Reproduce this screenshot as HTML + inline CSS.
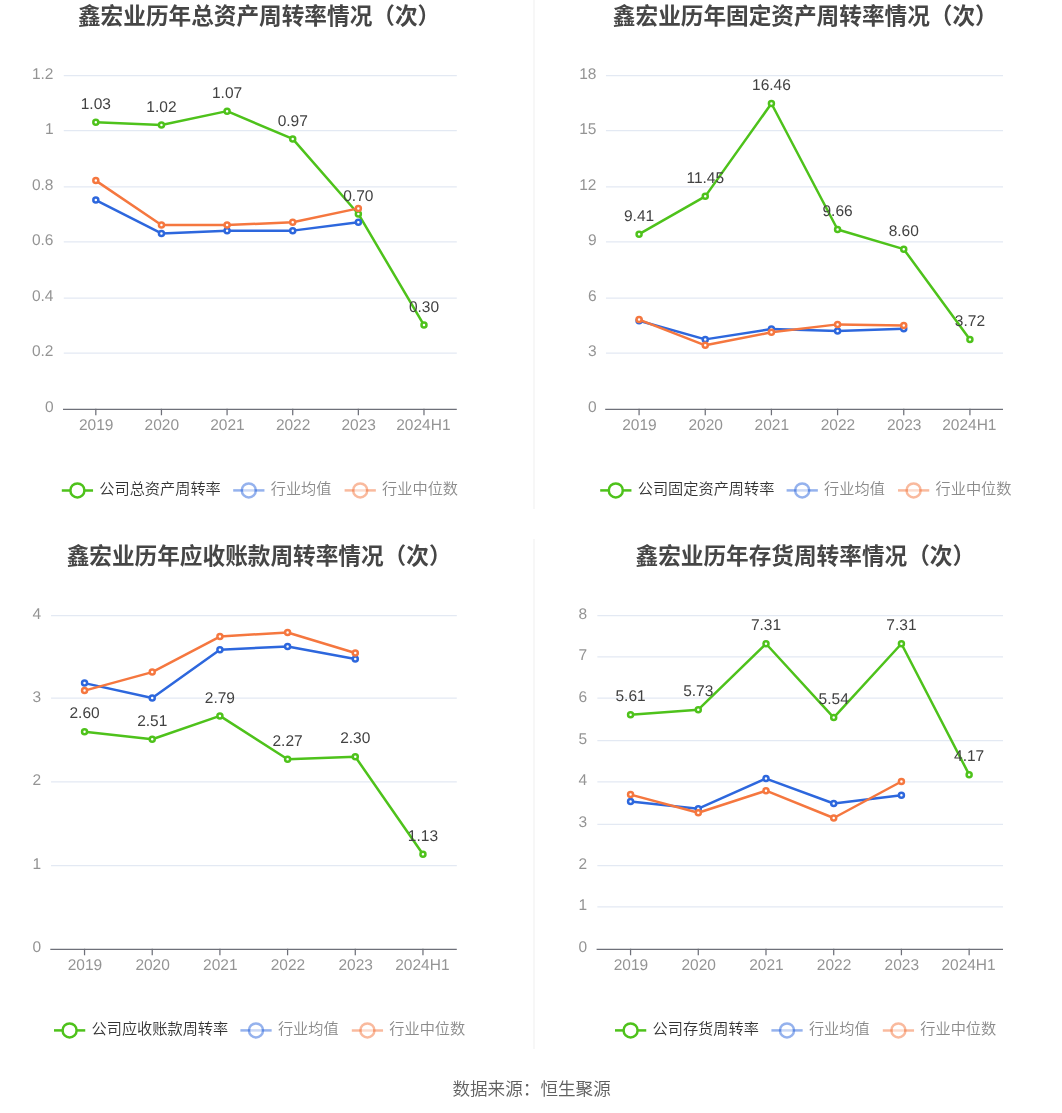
<!DOCTYPE html>
<html lang="zh-CN">
<head>
<meta charset="utf-8">
<title>鑫宏业历年周转率情况</title>
<style>
html,body{margin:0;padding:0;background:#fff;}
body{width:1062px;height:1113px;overflow:hidden;font-family:"Liberation Sans", "Noto Sans CJK SC", sans-serif;}
svg{display:block;will-change:transform;}
text{font-family:"Liberation Sans", "Noto Sans CJK SC", sans-serif;}
.ttl{font-size:22.65px;font-weight:bold;fill:#464646;}
.ax{font-size:15.5px;text-rendering:geometricPrecision;fill:#949494;}
.dl{font-size:15.5px;text-rendering:geometricPrecision;fill:#424242;}
.lg{font-size:15.2px;font-weight:350;}
.src{font-size:17.6px;fill:#606060;font-weight:350;}
</style>
</head>
<body>
<svg width="1062" height="1113" viewBox="0 0 1062 1113">
<rect x="0" y="0" width="1062" height="1113" fill="#fff"/>
<g>
<text class="ttl" x="259.1" y="24.2" text-anchor="middle">鑫宏业历年总资产周转率情况（次）</text>
<text class="ax" x="53.5" y="412" text-anchor="end">0</text>
<line x1="63.75" x2="456.8" y1="353.12" y2="353.12" stroke="#e3e9f3" stroke-width="1.25"/>
<text class="ax" x="53.5" y="356.42" text-anchor="end">0.2</text>
<line x1="63.75" x2="456.8" y1="298.12" y2="298.12" stroke="#e3e9f3" stroke-width="1.25"/>
<text class="ax" x="53.5" y="300.83" text-anchor="end">0.4</text>
<line x1="63.75" x2="456.8" y1="241.88" y2="241.88" stroke="#e3e9f3" stroke-width="1.25"/>
<text class="ax" x="53.5" y="245.25" text-anchor="end">0.6</text>
<line x1="63.75" x2="456.8" y1="186.88" y2="186.88" stroke="#e3e9f3" stroke-width="1.25"/>
<text class="ax" x="53.5" y="189.67" text-anchor="end">0.8</text>
<line x1="63.75" x2="456.8" y1="130.62" y2="130.62" stroke="#e3e9f3" stroke-width="1.25"/>
<text class="ax" x="53.5" y="134.08" text-anchor="end">1</text>
<line x1="63.75" x2="456.8" y1="75.62" y2="75.62" stroke="#e3e9f3" stroke-width="1.25"/>
<text class="ax" x="53.5" y="78.5" text-anchor="end">1.2</text>
<line x1="63" x2="456.8" y1="409.38" y2="409.38" stroke="#6e7079" stroke-width="1.25"/>
<line x1="95.82" x2="95.82" y1="408.77" y2="415.27" stroke="#6e7079" stroke-width="1.25"/>
<text class="ax" x="96.22" y="429.8" text-anchor="middle">2019</text>
<line x1="161.45" x2="161.45" y1="408.77" y2="415.27" stroke="#6e7079" stroke-width="1.25"/>
<text class="ax" x="161.85" y="429.8" text-anchor="middle">2020</text>
<line x1="227.08" x2="227.08" y1="408.77" y2="415.27" stroke="#6e7079" stroke-width="1.25"/>
<text class="ax" x="227.48" y="429.8" text-anchor="middle">2021</text>
<line x1="292.72" x2="292.72" y1="408.77" y2="415.27" stroke="#6e7079" stroke-width="1.25"/>
<text class="ax" x="293.12" y="429.8" text-anchor="middle">2022</text>
<line x1="358.35" x2="358.35" y1="408.77" y2="415.27" stroke="#6e7079" stroke-width="1.25"/>
<text class="ax" x="358.75" y="429.8" text-anchor="middle">2023</text>
<line x1="423.98" x2="423.98" y1="408.77" y2="415.27" stroke="#6e7079" stroke-width="1.25"/>
<text class="ax" x="423.38" y="429.8" text-anchor="middle">2024H1</text>
<polyline fill="none" stroke="#4ec21b" stroke-width="2.5" stroke-linejoin="bevel" points="95.82,122.25 161.45,125.02 227.08,111.13 292.72,138.92 358.35,213.96 423.98,325.12"/>
<circle cx="95.82" cy="122.25" r="2.5" fill="#fff" stroke="#4ec21b" stroke-width="2.5"/>
<circle cx="161.45" cy="125.02" r="2.5" fill="#fff" stroke="#4ec21b" stroke-width="2.5"/>
<circle cx="227.08" cy="111.13" r="2.5" fill="#fff" stroke="#4ec21b" stroke-width="2.5"/>
<circle cx="292.72" cy="138.92" r="2.5" fill="#fff" stroke="#4ec21b" stroke-width="2.5"/>
<circle cx="358.35" cy="213.96" r="2.5" fill="#fff" stroke="#4ec21b" stroke-width="2.5"/>
<circle cx="423.98" cy="325.12" r="2.5" fill="#fff" stroke="#4ec21b" stroke-width="2.5"/>
<polyline fill="none" stroke="#2d67dd" stroke-width="2.5" stroke-linejoin="bevel" points="95.82,200.06 161.45,233.41 227.08,230.63 292.72,230.63 358.35,222.3"/>
<circle cx="95.82" cy="200.06" r="2.5" fill="#fff" stroke="#2d67dd" stroke-width="2.5"/>
<circle cx="161.45" cy="233.41" r="2.5" fill="#fff" stroke="#2d67dd" stroke-width="2.5"/>
<circle cx="227.08" cy="230.63" r="2.5" fill="#fff" stroke="#2d67dd" stroke-width="2.5"/>
<circle cx="292.72" cy="230.63" r="2.5" fill="#fff" stroke="#2d67dd" stroke-width="2.5"/>
<circle cx="358.35" cy="222.3" r="2.5" fill="#fff" stroke="#2d67dd" stroke-width="2.5"/>
<polyline fill="none" stroke="#f5773f" stroke-width="2.5" stroke-linejoin="bevel" points="95.82,180.61 161.45,225.07 227.08,225.07 292.72,222.3 358.35,208.4"/>
<circle cx="95.82" cy="180.61" r="2.5" fill="#fff" stroke="#f5773f" stroke-width="2.5"/>
<circle cx="161.45" cy="225.07" r="2.5" fill="#fff" stroke="#f5773f" stroke-width="2.5"/>
<circle cx="227.08" cy="225.07" r="2.5" fill="#fff" stroke="#f5773f" stroke-width="2.5"/>
<circle cx="292.72" cy="222.3" r="2.5" fill="#fff" stroke="#f5773f" stroke-width="2.5"/>
<circle cx="358.35" cy="208.4" r="2.5" fill="#fff" stroke="#f5773f" stroke-width="2.5"/>
<text class="dl" x="95.82" y="108.95" text-anchor="middle">1.03</text>
<text class="dl" x="161.45" y="111.72" text-anchor="middle">1.02</text>
<text class="dl" x="227.08" y="97.83" text-anchor="middle">1.07</text>
<text class="dl" x="292.72" y="125.62" text-anchor="middle">0.97</text>
<text class="dl" x="358.35" y="200.66" text-anchor="middle">0.70</text>
<text class="dl" x="423.98" y="311.82" text-anchor="middle">0.30</text>
<line x1="61.8" x2="93.05" y1="490.4" y2="490.4" stroke="#4ec21b" stroke-width="2.5" opacity="1"/>
<circle cx="77.4" cy="490.4" r="7" fill="#fff" stroke="#4ec21b" stroke-width="2.5" opacity="1"/>
<text class="lg" x="99.3" y="494" fill="#333">公司总资产周转率</text>
<line x1="233.2" x2="264.45" y1="490.4" y2="490.4" stroke="#2d67dd" stroke-width="2.5" opacity="0.5"/>
<circle cx="248.8" cy="490.4" r="7" fill="#fff" stroke="#2d67dd" stroke-width="2.5" opacity="0.5"/>
<text class="lg" x="270.7" y="494" fill="#8a8a8a">行业均值</text>
<line x1="344.6" x2="375.85" y1="490.4" y2="490.4" stroke="#f5773f" stroke-width="2.5" opacity="0.5"/>
<circle cx="360.2" cy="490.4" r="7" fill="#fff" stroke="#f5773f" stroke-width="2.5" opacity="0.5"/>
<text class="lg" x="382.1" y="494" fill="#8a8a8a">行业中位数</text>
</g>
<g>
<text class="ttl" x="805.3" y="24.2" text-anchor="middle">鑫宏业历年固定资产周转率情况（次）</text>
<text class="ax" x="596.5" y="412" text-anchor="end">0</text>
<line x1="605.95" x2="1003" y1="353.12" y2="353.12" stroke="#e3e9f3" stroke-width="1.25"/>
<text class="ax" x="596.5" y="356.42" text-anchor="end">3</text>
<line x1="605.95" x2="1003" y1="298.12" y2="298.12" stroke="#e3e9f3" stroke-width="1.25"/>
<text class="ax" x="596.5" y="300.83" text-anchor="end">6</text>
<line x1="605.95" x2="1003" y1="241.88" y2="241.88" stroke="#e3e9f3" stroke-width="1.25"/>
<text class="ax" x="596.5" y="245.25" text-anchor="end">9</text>
<line x1="605.95" x2="1003" y1="186.88" y2="186.88" stroke="#e3e9f3" stroke-width="1.25"/>
<text class="ax" x="596.5" y="189.67" text-anchor="end">12</text>
<line x1="605.95" x2="1003" y1="130.62" y2="130.62" stroke="#e3e9f3" stroke-width="1.25"/>
<text class="ax" x="596.5" y="134.08" text-anchor="end">15</text>
<line x1="605.95" x2="1003" y1="75.62" y2="75.62" stroke="#e3e9f3" stroke-width="1.25"/>
<text class="ax" x="596.5" y="78.5" text-anchor="end">18</text>
<line x1="605.2" x2="1003" y1="409.38" y2="409.38" stroke="#6e7079" stroke-width="1.25"/>
<line x1="639.08" x2="639.08" y1="408.77" y2="415.27" stroke="#6e7079" stroke-width="1.25"/>
<text class="ax" x="639.48" y="429.8" text-anchor="middle">2019</text>
<line x1="705.25" x2="705.25" y1="408.77" y2="415.27" stroke="#6e7079" stroke-width="1.25"/>
<text class="ax" x="705.65" y="429.8" text-anchor="middle">2020</text>
<line x1="771.42" x2="771.42" y1="408.77" y2="415.27" stroke="#6e7079" stroke-width="1.25"/>
<text class="ax" x="771.82" y="429.8" text-anchor="middle">2021</text>
<line x1="837.58" x2="837.58" y1="408.77" y2="415.27" stroke="#6e7079" stroke-width="1.25"/>
<text class="ax" x="837.98" y="429.8" text-anchor="middle">2022</text>
<line x1="903.75" x2="903.75" y1="408.77" y2="415.27" stroke="#6e7079" stroke-width="1.25"/>
<text class="ax" x="904.15" y="429.8" text-anchor="middle">2023</text>
<line x1="969.92" x2="969.92" y1="408.77" y2="415.27" stroke="#6e7079" stroke-width="1.25"/>
<text class="ax" x="969.32" y="429.8" text-anchor="middle">2024H1</text>
<polyline fill="none" stroke="#4ec21b" stroke-width="2.5" stroke-linejoin="bevel" points="639.08,234.15 705.25,196.36 771.42,103.53 837.58,229.52 903.75,249.16 969.92,339.58"/>
<circle cx="639.08" cy="234.15" r="2.5" fill="#fff" stroke="#4ec21b" stroke-width="2.5"/>
<circle cx="705.25" cy="196.36" r="2.5" fill="#fff" stroke="#4ec21b" stroke-width="2.5"/>
<circle cx="771.42" cy="103.53" r="2.5" fill="#fff" stroke="#4ec21b" stroke-width="2.5"/>
<circle cx="837.58" cy="229.52" r="2.5" fill="#fff" stroke="#4ec21b" stroke-width="2.5"/>
<circle cx="903.75" cy="249.16" r="2.5" fill="#fff" stroke="#4ec21b" stroke-width="2.5"/>
<circle cx="969.92" cy="339.58" r="2.5" fill="#fff" stroke="#4ec21b" stroke-width="2.5"/>
<polyline fill="none" stroke="#2d67dd" stroke-width="2.5" stroke-linejoin="bevel" points="639.08,320.68 705.25,339.39 771.42,329.02 837.58,331.05 903.75,328.65"/>
<circle cx="639.08" cy="320.68" r="2.5" fill="#fff" stroke="#2d67dd" stroke-width="2.5"/>
<circle cx="705.25" cy="339.39" r="2.5" fill="#fff" stroke="#2d67dd" stroke-width="2.5"/>
<circle cx="771.42" cy="329.02" r="2.5" fill="#fff" stroke="#2d67dd" stroke-width="2.5"/>
<circle cx="837.58" cy="331.05" r="2.5" fill="#fff" stroke="#2d67dd" stroke-width="2.5"/>
<circle cx="903.75" cy="328.65" r="2.5" fill="#fff" stroke="#2d67dd" stroke-width="2.5"/>
<polyline fill="none" stroke="#f5773f" stroke-width="2.5" stroke-linejoin="bevel" points="639.08,319.57 705.25,345.32 771.42,332.35 837.58,324.38 903.75,325.5"/>
<circle cx="639.08" cy="319.57" r="2.5" fill="#fff" stroke="#f5773f" stroke-width="2.5"/>
<circle cx="705.25" cy="345.32" r="2.5" fill="#fff" stroke="#f5773f" stroke-width="2.5"/>
<circle cx="771.42" cy="332.35" r="2.5" fill="#fff" stroke="#f5773f" stroke-width="2.5"/>
<circle cx="837.58" cy="324.38" r="2.5" fill="#fff" stroke="#f5773f" stroke-width="2.5"/>
<circle cx="903.75" cy="325.5" r="2.5" fill="#fff" stroke="#f5773f" stroke-width="2.5"/>
<text class="dl" x="639.08" y="220.85" text-anchor="middle">9.41</text>
<text class="dl" x="705.25" y="183.06" text-anchor="middle">11.45</text>
<text class="dl" x="771.42" y="90.23" text-anchor="middle">16.46</text>
<text class="dl" x="837.58" y="216.22" text-anchor="middle">9.66</text>
<text class="dl" x="903.75" y="235.86" text-anchor="middle">8.60</text>
<text class="dl" x="969.92" y="326.28" text-anchor="middle">3.72</text>
<line x1="600.2" x2="631.45" y1="490.4" y2="490.4" stroke="#4ec21b" stroke-width="2.5" opacity="1"/>
<circle cx="615.8" cy="490.4" r="7" fill="#fff" stroke="#4ec21b" stroke-width="2.5" opacity="1"/>
<text class="lg" x="637.7" y="494" fill="#333">公司固定资产周转率</text>
<line x1="786.6" x2="817.85" y1="490.4" y2="490.4" stroke="#2d67dd" stroke-width="2.5" opacity="0.5"/>
<circle cx="802.2" cy="490.4" r="7" fill="#fff" stroke="#2d67dd" stroke-width="2.5" opacity="0.5"/>
<text class="lg" x="824.1" y="494" fill="#8a8a8a">行业均值</text>
<line x1="898" x2="929.25" y1="490.4" y2="490.4" stroke="#f5773f" stroke-width="2.5" opacity="0.5"/>
<circle cx="913.6" cy="490.4" r="7" fill="#fff" stroke="#f5773f" stroke-width="2.5" opacity="0.5"/>
<text class="lg" x="935.5" y="494" fill="#8a8a8a">行业中位数</text>
</g>
<g>
<text class="ttl" x="259.1" y="564.2" text-anchor="middle">鑫宏业历年应收账款周转率情况（次）</text>
<text class="ax" x="41.2" y="952" text-anchor="end">0</text>
<line x1="51.05" x2="456.8" y1="865.62" y2="865.62" stroke="#e3e9f3" stroke-width="1.25"/>
<text class="ax" x="41.2" y="868.62" text-anchor="end">1</text>
<line x1="51.05" x2="456.8" y1="781.88" y2="781.88" stroke="#e3e9f3" stroke-width="1.25"/>
<text class="ax" x="41.2" y="785.25" text-anchor="end">2</text>
<line x1="51.05" x2="456.8" y1="698.12" y2="698.12" stroke="#e3e9f3" stroke-width="1.25"/>
<text class="ax" x="41.2" y="701.88" text-anchor="end">3</text>
<line x1="51.05" x2="456.8" y1="615.62" y2="615.62" stroke="#e3e9f3" stroke-width="1.25"/>
<text class="ax" x="41.2" y="618.5" text-anchor="end">4</text>
<line x1="50.3" x2="456.8" y1="949.38" y2="949.38" stroke="#6e7079" stroke-width="1.25"/>
<line x1="84.54" x2="84.54" y1="948.77" y2="955.27" stroke="#6e7079" stroke-width="1.25"/>
<text class="ax" x="84.94" y="969.8" text-anchor="middle">2019</text>
<line x1="152.23" x2="152.23" y1="948.77" y2="955.27" stroke="#6e7079" stroke-width="1.25"/>
<text class="ax" x="152.63" y="969.8" text-anchor="middle">2020</text>
<line x1="219.91" x2="219.91" y1="948.77" y2="955.27" stroke="#6e7079" stroke-width="1.25"/>
<text class="ax" x="220.31" y="969.8" text-anchor="middle">2021</text>
<line x1="287.59" x2="287.59" y1="948.77" y2="955.27" stroke="#6e7079" stroke-width="1.25"/>
<text class="ax" x="287.99" y="969.8" text-anchor="middle">2022</text>
<line x1="355.28" x2="355.28" y1="948.77" y2="955.27" stroke="#6e7079" stroke-width="1.25"/>
<text class="ax" x="355.68" y="969.8" text-anchor="middle">2023</text>
<line x1="422.96" x2="422.96" y1="948.77" y2="955.27" stroke="#6e7079" stroke-width="1.25"/>
<text class="ax" x="422.36" y="969.8" text-anchor="middle">2024H1</text>
<polyline fill="none" stroke="#4ec21b" stroke-width="2.5" stroke-linejoin="bevel" points="84.54,731.73 152.23,739.23 219.91,715.88 287.59,759.24 355.28,756.74 422.96,854.29"/>
<circle cx="84.54" cy="731.73" r="2.5" fill="#fff" stroke="#4ec21b" stroke-width="2.5"/>
<circle cx="152.23" cy="739.23" r="2.5" fill="#fff" stroke="#4ec21b" stroke-width="2.5"/>
<circle cx="219.91" cy="715.88" r="2.5" fill="#fff" stroke="#4ec21b" stroke-width="2.5"/>
<circle cx="287.59" cy="759.24" r="2.5" fill="#fff" stroke="#4ec21b" stroke-width="2.5"/>
<circle cx="355.28" cy="756.74" r="2.5" fill="#fff" stroke="#4ec21b" stroke-width="2.5"/>
<circle cx="422.96" cy="854.29" r="2.5" fill="#fff" stroke="#4ec21b" stroke-width="2.5"/>
<polyline fill="none" stroke="#2d67dd" stroke-width="2.5" stroke-linejoin="bevel" points="84.54,683.12 152.23,698.04 219.91,649.68 287.59,646.52 355.28,659.02"/>
<circle cx="84.54" cy="683.12" r="2.5" fill="#fff" stroke="#2d67dd" stroke-width="2.5"/>
<circle cx="152.23" cy="698.04" r="2.5" fill="#fff" stroke="#2d67dd" stroke-width="2.5"/>
<circle cx="219.91" cy="649.68" r="2.5" fill="#fff" stroke="#2d67dd" stroke-width="2.5"/>
<circle cx="287.59" cy="646.52" r="2.5" fill="#fff" stroke="#2d67dd" stroke-width="2.5"/>
<circle cx="355.28" cy="659.02" r="2.5" fill="#fff" stroke="#2d67dd" stroke-width="2.5"/>
<polyline fill="none" stroke="#f5773f" stroke-width="2.5" stroke-linejoin="bevel" points="84.54,690.62 152.23,672.11 219.91,636.59 287.59,632.43 355.28,652.94"/>
<circle cx="84.54" cy="690.62" r="2.5" fill="#fff" stroke="#f5773f" stroke-width="2.5"/>
<circle cx="152.23" cy="672.11" r="2.5" fill="#fff" stroke="#f5773f" stroke-width="2.5"/>
<circle cx="219.91" cy="636.59" r="2.5" fill="#fff" stroke="#f5773f" stroke-width="2.5"/>
<circle cx="287.59" cy="632.43" r="2.5" fill="#fff" stroke="#f5773f" stroke-width="2.5"/>
<circle cx="355.28" cy="652.94" r="2.5" fill="#fff" stroke="#f5773f" stroke-width="2.5"/>
<text class="dl" x="84.54" y="718.43" text-anchor="middle">2.60</text>
<text class="dl" x="152.23" y="725.93" text-anchor="middle">2.51</text>
<text class="dl" x="219.91" y="702.58" text-anchor="middle">2.79</text>
<text class="dl" x="287.59" y="745.94" text-anchor="middle">2.27</text>
<text class="dl" x="355.28" y="743.44" text-anchor="middle">2.30</text>
<text class="dl" x="422.96" y="840.99" text-anchor="middle">1.13</text>
<line x1="54" x2="85.25" y1="1030.4" y2="1030.4" stroke="#4ec21b" stroke-width="2.5" opacity="1"/>
<circle cx="69.6" cy="1030.4" r="7" fill="#fff" stroke="#4ec21b" stroke-width="2.5" opacity="1"/>
<text class="lg" x="91.5" y="1034" fill="#333">公司应收账款周转率</text>
<line x1="240.4" x2="271.65" y1="1030.4" y2="1030.4" stroke="#2d67dd" stroke-width="2.5" opacity="0.5"/>
<circle cx="256" cy="1030.4" r="7" fill="#fff" stroke="#2d67dd" stroke-width="2.5" opacity="0.5"/>
<text class="lg" x="277.9" y="1034" fill="#8a8a8a">行业均值</text>
<line x1="351.8" x2="383.05" y1="1030.4" y2="1030.4" stroke="#f5773f" stroke-width="2.5" opacity="0.5"/>
<circle cx="367.4" cy="1030.4" r="7" fill="#fff" stroke="#f5773f" stroke-width="2.5" opacity="0.5"/>
<text class="lg" x="389.3" y="1034" fill="#8a8a8a">行业中位数</text>
</g>
<g>
<text class="ttl" x="805.3" y="564.2" text-anchor="middle">鑫宏业历年存货周转率情况（次）</text>
<text class="ax" x="587.2" y="952" text-anchor="end">0</text>
<line x1="597.35" x2="1003" y1="906.88" y2="906.88" stroke="#e3e9f3" stroke-width="1.25"/>
<text class="ax" x="587.2" y="910.31" text-anchor="end">1</text>
<line x1="597.35" x2="1003" y1="865.62" y2="865.62" stroke="#e3e9f3" stroke-width="1.25"/>
<text class="ax" x="587.2" y="868.62" text-anchor="end">2</text>
<line x1="597.35" x2="1003" y1="824.38" y2="824.38" stroke="#e3e9f3" stroke-width="1.25"/>
<text class="ax" x="587.2" y="826.94" text-anchor="end">3</text>
<line x1="597.35" x2="1003" y1="781.88" y2="781.88" stroke="#e3e9f3" stroke-width="1.25"/>
<text class="ax" x="587.2" y="785.25" text-anchor="end">4</text>
<line x1="597.35" x2="1003" y1="740.62" y2="740.62" stroke="#e3e9f3" stroke-width="1.25"/>
<text class="ax" x="587.2" y="743.56" text-anchor="end">5</text>
<line x1="597.35" x2="1003" y1="698.12" y2="698.12" stroke="#e3e9f3" stroke-width="1.25"/>
<text class="ax" x="587.2" y="701.88" text-anchor="end">6</text>
<line x1="597.35" x2="1003" y1="656.88" y2="656.88" stroke="#e3e9f3" stroke-width="1.25"/>
<text class="ax" x="587.2" y="660.19" text-anchor="end">7</text>
<line x1="597.35" x2="1003" y1="615.62" y2="615.62" stroke="#e3e9f3" stroke-width="1.25"/>
<text class="ax" x="587.2" y="618.5" text-anchor="end">8</text>
<line x1="596.6" x2="1003" y1="949.38" y2="949.38" stroke="#6e7079" stroke-width="1.25"/>
<line x1="630.56" x2="630.56" y1="948.77" y2="955.27" stroke="#6e7079" stroke-width="1.25"/>
<text class="ax" x="630.96" y="969.8" text-anchor="middle">2019</text>
<line x1="698.28" x2="698.28" y1="948.77" y2="955.27" stroke="#6e7079" stroke-width="1.25"/>
<text class="ax" x="698.68" y="969.8" text-anchor="middle">2020</text>
<line x1="765.99" x2="765.99" y1="948.77" y2="955.27" stroke="#6e7079" stroke-width="1.25"/>
<text class="ax" x="766.39" y="969.8" text-anchor="middle">2021</text>
<line x1="833.71" x2="833.71" y1="948.77" y2="955.27" stroke="#6e7079" stroke-width="1.25"/>
<text class="ax" x="834.11" y="969.8" text-anchor="middle">2022</text>
<line x1="901.42" x2="901.42" y1="948.77" y2="955.27" stroke="#6e7079" stroke-width="1.25"/>
<text class="ax" x="901.82" y="969.8" text-anchor="middle">2023</text>
<line x1="969.14" x2="969.14" y1="948.77" y2="955.27" stroke="#6e7079" stroke-width="1.25"/>
<text class="ax" x="968.54" y="969.8" text-anchor="middle">2024H1</text>
<polyline fill="none" stroke="#4ec21b" stroke-width="2.5" stroke-linejoin="bevel" points="630.56,714.63 698.28,709.63 765.99,643.76 833.71,717.55 901.42,643.76 969.14,774.66"/>
<circle cx="630.56" cy="714.63" r="2.5" fill="#fff" stroke="#4ec21b" stroke-width="2.5"/>
<circle cx="698.28" cy="709.63" r="2.5" fill="#fff" stroke="#4ec21b" stroke-width="2.5"/>
<circle cx="765.99" cy="643.76" r="2.5" fill="#fff" stroke="#4ec21b" stroke-width="2.5"/>
<circle cx="833.71" cy="717.55" r="2.5" fill="#fff" stroke="#4ec21b" stroke-width="2.5"/>
<circle cx="901.42" cy="643.76" r="2.5" fill="#fff" stroke="#4ec21b" stroke-width="2.5"/>
<circle cx="969.14" cy="774.66" r="2.5" fill="#fff" stroke="#4ec21b" stroke-width="2.5"/>
<polyline fill="none" stroke="#2d67dd" stroke-width="2.5" stroke-linejoin="bevel" points="630.56,801.59 698.28,808.68 765.99,778.58 833.71,803.51 901.42,795.22"/>
<circle cx="630.56" cy="801.59" r="2.5" fill="#fff" stroke="#2d67dd" stroke-width="2.5"/>
<circle cx="698.28" cy="808.68" r="2.5" fill="#fff" stroke="#2d67dd" stroke-width="2.5"/>
<circle cx="765.99" cy="778.58" r="2.5" fill="#fff" stroke="#2d67dd" stroke-width="2.5"/>
<circle cx="833.71" cy="803.51" r="2.5" fill="#fff" stroke="#2d67dd" stroke-width="2.5"/>
<circle cx="901.42" cy="795.22" r="2.5" fill="#fff" stroke="#2d67dd" stroke-width="2.5"/>
<polyline fill="none" stroke="#f5773f" stroke-width="2.5" stroke-linejoin="bevel" points="630.56,794.59 698.28,812.81 765.99,790.71 833.71,818.02 901.42,781.5"/>
<circle cx="630.56" cy="794.59" r="2.5" fill="#fff" stroke="#f5773f" stroke-width="2.5"/>
<circle cx="698.28" cy="812.81" r="2.5" fill="#fff" stroke="#f5773f" stroke-width="2.5"/>
<circle cx="765.99" cy="790.71" r="2.5" fill="#fff" stroke="#f5773f" stroke-width="2.5"/>
<circle cx="833.71" cy="818.02" r="2.5" fill="#fff" stroke="#f5773f" stroke-width="2.5"/>
<circle cx="901.42" cy="781.5" r="2.5" fill="#fff" stroke="#f5773f" stroke-width="2.5"/>
<text class="dl" x="630.56" y="701.33" text-anchor="middle">5.61</text>
<text class="dl" x="698.28" y="696.33" text-anchor="middle">5.73</text>
<text class="dl" x="765.99" y="630.46" text-anchor="middle">7.31</text>
<text class="dl" x="833.71" y="704.25" text-anchor="middle">5.54</text>
<text class="dl" x="901.42" y="630.46" text-anchor="middle">7.31</text>
<text class="dl" x="969.14" y="761.36" text-anchor="middle">4.17</text>
<line x1="615" x2="646.25" y1="1030.4" y2="1030.4" stroke="#4ec21b" stroke-width="2.5" opacity="1"/>
<circle cx="630.6" cy="1030.4" r="7" fill="#fff" stroke="#4ec21b" stroke-width="2.5" opacity="1"/>
<text class="lg" x="652.5" y="1034" fill="#333">公司存货周转率</text>
<line x1="771.4" x2="802.65" y1="1030.4" y2="1030.4" stroke="#2d67dd" stroke-width="2.5" opacity="0.5"/>
<circle cx="787" cy="1030.4" r="7" fill="#fff" stroke="#2d67dd" stroke-width="2.5" opacity="0.5"/>
<text class="lg" x="808.9" y="1034" fill="#8a8a8a">行业均值</text>
<line x1="882.8" x2="914.05" y1="1030.4" y2="1030.4" stroke="#f5773f" stroke-width="2.5" opacity="0.5"/>
<circle cx="898.4" cy="1030.4" r="7" fill="#fff" stroke="#f5773f" stroke-width="2.5" opacity="0.5"/>
<text class="lg" x="920.3" y="1034" fill="#8a8a8a">行业中位数</text>
</g>
<rect x="533" y="0" width="2" height="509" fill="#f7f7f7"/>
<rect x="533" y="539" width="2" height="510" fill="#f7f7f7"/>
<text class="src" x="531.6" y="1095.3" text-anchor="middle">数据来源：恒生聚源</text>
</svg>
</body>
</html>
